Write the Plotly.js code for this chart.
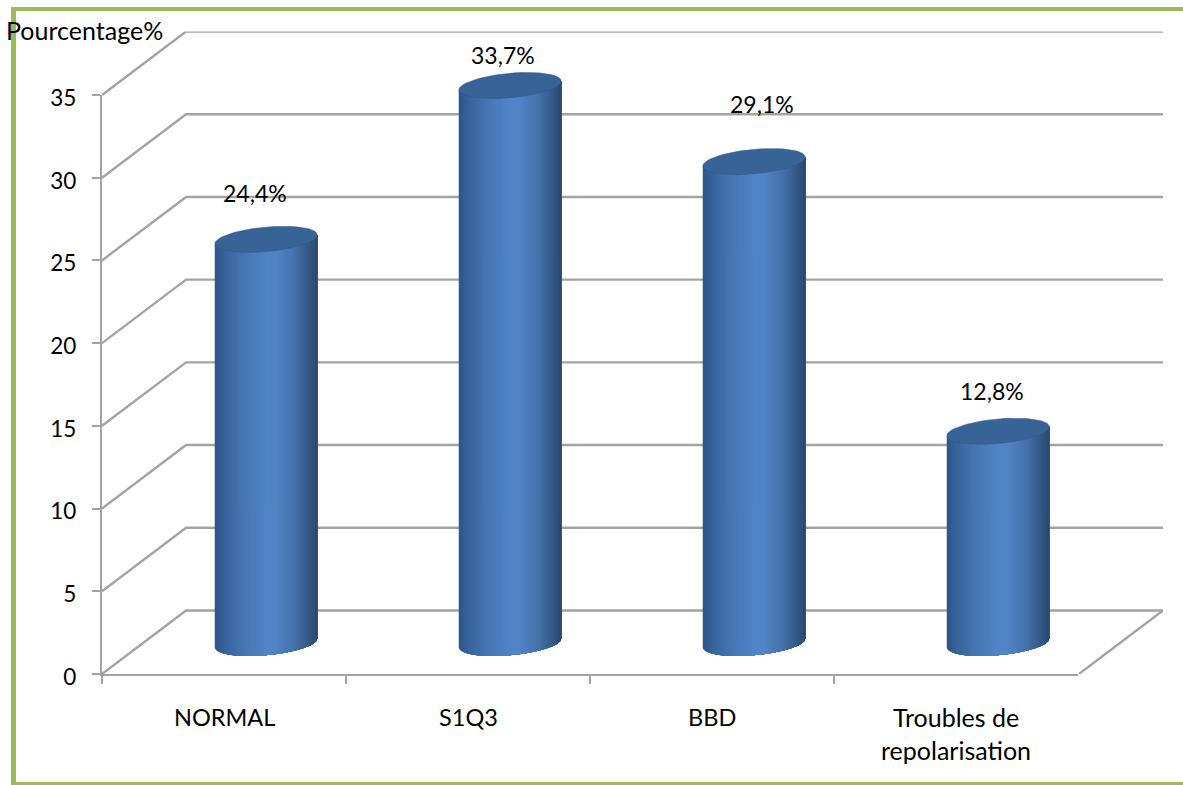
<!DOCTYPE html>
<html lang="fr">
<head>
<meta charset="utf-8">
<title>Pourcentage par anomalie ECG</title>
<script src="https://cdn.plot.ly/plotly-3.0.1.min.js"></script>
<style>html,body{margin:0;padding:0;background:#fff}#chart{width:1183px;height:785px}</style>
</head>
<body>
<div id="chart"></div>
<script>
// Chart data
const categories = ['NORMAL', 'S1Q3', 'BBD', 'Troubles de repolarisation'];
const categoryLines = [['NORMAL'], ['S1Q3'], ['BBD'], ['Troubles de', 'repolarisation']];
const percentages = [24.4, 33.7, 29.1, 12.8];
const valueTicks = [0, 5, 10, 15, 20, 25, 30, 35];

// Page geometry, in pixels
const W = 1183, H = 785;
const FONT = 'Lato, Carlito, sans-serif';
const GREY = '#a3a3a3';
const frameGreen = '#9bbb59';
const fx = px => px / W;
const fy = py => 1 - py / H;

// Pseudo-3D chart box: front plane, cylinder mid-plane, back wall
const unitY = 579 / 35;            // pixels per percentage point
const unitX = 244;                 // pixels per category
const front = {x: [102, 1078], y: [674, 95]};
const mid = {x: [144, 1120], y: [643, 64]};
const back = {x: [186, 1163], y: [610.5, 31.5]};
const depthX = (back.x[0] - front.x[0]) / unitX;
const depthY = (front.y[0] - back.y[0]) / unitY;
const floorPad = 3;                // room under the cylinders for their rounded base

// Cylinder proportions in axis units
const radiusX = 0.21, radiusY = 0.74, tilt = 0.27;

// Horizontal shading of the cylinder wall
const shadeStops = [
  [0.00, [44, 84, 136]], [0.08, [54, 97, 152]], [0.25, [68, 115, 176]],
  [0.50, [80, 132, 200]], [0.60, [80, 132, 198]], [0.78, [68, 113, 168]],
  [0.92, [52, 88, 134]], [1.00, [42, 72, 112]]
];
function shade(f) {
  for (let i = 1; i < shadeStops.length; i++) {
    const [f0, c0] = shadeStops[i - 1], [f1, c1] = shadeStops[i];
    if (f <= f1) {
      const t = (f - f0) / (f1 - f0);
      return 'rgb(' + c0.map((c, k) => Math.round(c + (c1[k] - c) * t)).join(',') + ')';
    }
  }
  return 'rgb(42,72,112)';
}

const traces = [];

// Wireframe of the box: side edge, back-wall gridline, then the floor's right edge
const boxX = [], boxY = [];
valueTicks.forEach(v => { boxX.push(-depthX, 0, 4, null); boxY.push(v, v + depthY, v + depthY, null); });
boxX.push(4, 4 - depthX); boxY.push(depthY, 0);
traces.push({type: 'scatter', mode: 'lines', x: boxX, y: boxY, xaxis: 'x', yaxis: 'y',
  line: {color: GREY, width: 2.4}, cliponaxis: false, hoverinfo: 'skip', showlegend: false});

// Category axis carrier on the front plane
traces.push({type: 'scatter', mode: 'markers', x: categories, y: percentages, xaxis: 'x2', yaxis: 'y2',
  marker: {opacity: 0}, hoverinfo: 'skip', showlegend: false});

// Bars from the percentages
traces.push({type: 'bar', x: [0, 1, 2, 3], y: percentages, width: 0.38, xaxis: 'x3', yaxis: 'y3',
  marker: {color: '#4a7ebb', line: {width: 0}}, customdata: categories,
  hovertemplate: '%{customdata}: %{y}%<extra></extra>', showlegend: false});

// Cylinder wall: overlapping slices painted left to right
const SLICES = 44;
for (let s = 0; s < SLICES; s++) {
  const f = s / SLICES;
  const xs = [], ys = [];
  percentages.forEach((v, i) => {
    const c = 2 * f - 1;
    xs.push(i + radiusX * c, i + radiusX);
    ys.push(v + tilt * c, v + tilt);
    const sweep = Math.acos(c);
    for (let k = 0; k <= 24; k++) {
      const a = -sweep * k / 24;
      xs.push(i + radiusX * Math.cos(a));
      ys.push(radiusY * Math.sin(a) + tilt * Math.cos(a));
    }
    xs.push(i + radiusX * c);
    ys.push(v + tilt * c);
    xs.push(null); ys.push(null);
  });
  traces.push({type: 'scatter', mode: 'lines', x: xs, y: ys, xaxis: 'x3', yaxis: 'y3',
    fill: 'toself', fillcolor: shade((s + 0.5) / SLICES), line: {width: 0},
    cliponaxis: false, hoverinfo: 'skip', showlegend: false});
}

// Cylinder tops
const capX = [], capY = [];
percentages.forEach((v, i) => {
  for (let k = 0; k <= 60; k++) {
    const a = 2 * Math.PI * k / 60;
    capX.push(i + radiusX * Math.cos(a));
    capY.push(v + radiusY * Math.sin(a) + tilt * Math.cos(a));
  }
  capX.push(null); capY.push(null);
});
traces.push({type: 'scatter', mode: 'lines', x: capX, y: capY, xaxis: 'x3', yaxis: 'y3',
  fill: 'toself', fillcolor: '#386396', line: {width: 0.5, color: '#33598a'},
  cliponaxis: false, hoverinfo: 'skip', showlegend: false});

// Value labels sit above each cylinder
const labelNudges = [[-11, 46], [-7, 31], [8, 58], [-6, 40]];
const annotations = percentages.map((v, i) => ({
  xref: 'x3', yref: 'y3', x: i, y: v, xshift: labelNudges[i][0], yshift: labelNudges[i][1],
  text: v.toFixed(1).replace('.', ',') + '%', showarrow: false,
  font: {family: FONT, size: 23, color: '#000'}, xanchor: 'center', yanchor: 'middle'
}));

// Category labels, one annotation per line for the wide leading
categoryLines.forEach((lines, i) => lines.forEach((line, j) => annotations.push({
  xref: 'x2', yref: 'paper', x: i, y: fy(717 + 33 * j), text: line, showarrow: false,
  font: {family: FONT, size: lines.length > 1 ? 25 : 23.5, color: '#000'}, xanchor: 'center', yanchor: 'middle'
})));

// Value axis title
annotations.push({xref: 'paper', yref: 'paper', x: fx(84.5), y: fy(30), text: 'Pourcentage%',
  showarrow: false, font: {family: FONT, size: 25, color: '#000'}, xanchor: 'center', yanchor: 'middle'});

const hiddenAxis = {showline: false, showgrid: false, zeroline: false, showticklabels: false, ticks: ''};

const layout = {
  width: W, height: H, autosize: false,
  margin: {l: 0, r: 0, t: 0, b: 0},
  paper_bgcolor: '#fff', plot_bgcolor: 'rgba(0,0,0,0)',
  showlegend: false, barmode: 'overlay', dragmode: false,
  // Whole box, front-left corner to back-right corner
  xaxis: Object.assign({}, hiddenAxis, {domain: [fx(front.x[0]), fx(back.x[1])], range: [-depthX, 4], anchor: 'y'}),
  yaxis: Object.assign({}, hiddenAxis, {domain: [fy(front.y[0]), fy(back.y[1])], range: [0, 35 + depthY], anchor: 'x'}),
  // Front plane with the visible axes
  xaxis2: {domain: [fx(front.x[0]), fx(front.x[1])], anchor: 'y2', type: 'category',
    categoryorder: 'array', categoryarray: categories, range: [-0.5, 3.5], tickson: 'boundaries',
    ticks: 'outside', ticklen: 8, tickwidth: 2.4, tickcolor: GREY, showticklabels: false,
    showline: true, linecolor: GREY, linewidth: 2.4, showgrid: false, zeroline: false},
  yaxis2: {domain: [fy(front.y[0]), fy(front.y[1])], anchor: 'x2', range: [0, 35], tickvals: valueTicks,
    ticks: 'outside', ticklen: 8, tickwidth: 2.4, tickcolor: GREY, showline: true, linecolor: GREY, linewidth: 2.4,
    showgrid: false, zeroline: false, ticklabelstandoff: 11, ticklabelshift: 3,
    tickfont: {family: FONT, size: 22.5, color: '#000'}},
  // Mid-depth plane carrying the cylinders
  xaxis3: Object.assign({}, hiddenAxis, {domain: [fx(mid.x[0]), fx(mid.x[1])], range: [-0.5, 3.5], anchor: 'y3'}),
  yaxis3: Object.assign({}, hiddenAxis, {domain: [fy(mid.y[0] + floorPad * unitY), fy(mid.y[1])], range: [-floorPad, 35], anchor: 'x3'}),
  annotations: annotations,
  // Green page frame, open on the right
  shapes: [
    {type: 'rect', xref: 'paper', yref: 'paper', x0: fx(11), x1: fx(16), y0: fy(785), y1: fy(7), fillcolor: frameGreen, line: {width: 0}, layer: 'below'},
    {type: 'rect', xref: 'paper', yref: 'paper', x0: fx(11), x1: 1, y0: fy(11), y1: fy(7), fillcolor: frameGreen, line: {width: 0}, layer: 'below'},
    {type: 'rect', xref: 'paper', yref: 'paper', x0: fx(11), x1: 1, y0: fy(785), y1: fy(782), fillcolor: frameGreen, line: {width: 0}, layer: 'below'}
  ]
};

Plotly.newPlot('chart', traces, layout, {displayModeBar: false, responsive: false});
</script>
</body>
</html>
